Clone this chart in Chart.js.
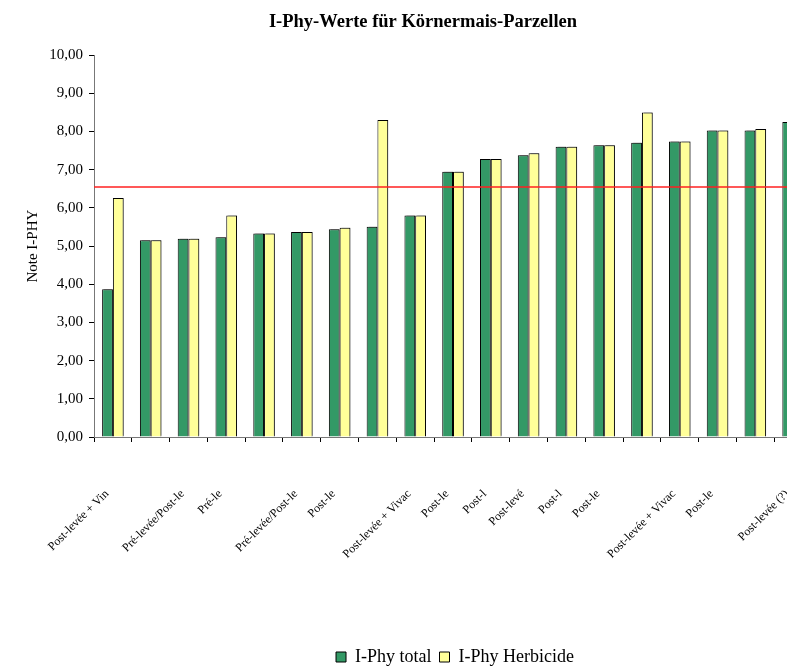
<!DOCTYPE html>
<html>
<head>
<meta charset="utf-8">
<title>I-Phy-Werte für Körnermais-Parzellen</title>
<script src="https://cdn.jsdelivr.net/npm/chart.js@4.4.1/dist/chart.umd.min.js"></script>
<style>
  html, body { margin: 0; padding: 0; background: #fff; overflow: hidden; }
  #wrap { width: 830px; height: 666px; }
</style>
</head>
<body>
<div id="wrap"><canvas id="chart" width="830" height="666"></canvas></div>
<script>
// category labels, as far as they can be read under the axis
var categories = [
    "Post-levée + Vin", "", "Pré-levée/Post-le", "Pré-le", "",
    "Pré-levée/Post-le", "Post-le", "", "Post-levée + Vivac", "Post-le",
    "Post-l", "Post-levé", "Post-l", "Post-le", "",
    "Post-levée + Vivac", "Post-le", "", "Post-levée (?)"
];

var iphyTotal = [3.87, 5.15, 5.19, 5.23, 5.33, 5.37, 5.44, 5.51, 5.80, 6.95,
                 7.28, 7.38, 7.60, 7.64, 7.71, 7.74, 8.03, 8.03, 8.25];
var iphyHerbicide = [6.26, 5.15, 5.19, 5.80, 5.33, 5.37, 5.48, 8.30, 5.80, 6.95,
                     7.28, 7.43, 7.60, 7.64, 8.50, 7.74, 8.03, 8.07, 8.25];

var yTickValues = [0, 1, 2, 3, 4, 5, 6, 7, 8, 9, 10];
var threshold = 6.55;

var FONT = "'Liberation Serif', 'Times New Roman', serif";
Chart.defaults.font.family = FONT;
Chart.defaults.color = "#000";

function centerBox(box, cx) {
    var d = cx - (box.left + box.right) / 2;
    box.left += d;
    box.right += d;
}

// title and legend are not centred on the same axis in the original
var boxPlacement = {
    id: "boxPlacement",
    afterLayout: function (chart) {
        centerBox(chart.titleBlock, 423);
        centerBox(chart.legend, 455);
        var h = chart.legend.height;
        chart.legend.top = 640;
        chart.legend.bottom = 640 + h;
    }
};

var barShadow = {
    id: "barShadow",
    beforeDatasetsDraw: function (chart) {
        var ctx = chart.ctx;
        ctx.save();
        ctx.shadowColor = "rgba(0,0,0,0.3)";
        ctx.shadowOffsetX = 2;
        ctx.shadowOffsetY = -1;
        ctx.shadowBlur = 0;
    },
    afterDatasetsDraw: function (chart) {
        chart.ctx.restore();
    }
};

var thresholdLine = {
    id: "thresholdLine",
    afterDatasetsDraw: function (chart) {
        var ctx = chart.ctx;
        var area = chart.chartArea;
        var y = chart.scales.y.getPixelForValue(threshold);
        ctx.save();
        ctx.strokeStyle = "#ff2020";
        ctx.lineWidth = 1.5;
        ctx.beginPath();
        ctx.moveTo(area.left, y);
        ctx.lineTo(area.right, y);
        ctx.stroke();
        ctx.restore();
    }
};

new Chart(document.getElementById("chart"), {
    type: "bar",
    data: {
        labels: categories,
        datasets: [{
            label: "I-Phy total",
            data: iphyTotal,
            backgroundColor: "#339966",
            borderColor: "#000",
            borderWidth: 1
        }, {
            label: "I-Phy Herbicide",
            data: iphyHerbicide,
            backgroundColor: "#ffff99",
            borderColor: "#000",
            borderWidth: 1
        }]
    },
    options: {
        responsive: false,
        animation: false,
        devicePixelRatio: 1,
        categoryPercentage: 0.57,
        barPercentage: 1,
        layout: { padding: { left: 0, right: 18, top: 0, bottom: 0 } },
        scales: {
            x: {
                ticks: {
                    autoSkip: false,
                    maxRotation: 45,
                    minRotation: 45,
                    font: { size: 12 },
                    padding: 45,
                    labelOffset: -6
                },
                grid: { drawOnChartArea: false, tickLength: 5, color: "#000", offset: true },
                border: { color: "#777" },
                afterFit: function (scale) {
                    scale.height = 229 - scale.chart.legend.height;
                    scale.paddingLeft = 0;
                    scale.paddingRight = 0;
                }
            },
            y: {
                min: 0,
                max: 10,
                afterBuildTicks: function (scale) {
                    scale.ticks = yTickValues.map(function (v) { return { value: v }; });
                },
                ticks: {
                    font: { size: 15 },
                    padding: 6,
                    callback: function (v) { return Number(v).toFixed(2).replace(".", ","); }
                },
                grid: { drawOnChartArea: false, tickLength: 5, color: "#000" },
                border: { color: "#777" },
                title: {
                    display: true,
                    text: "Note I-PHY",
                    font: { size: 15 },
                    padding: { top: 24, bottom: 0 }
                },
                afterFit: function (scale) {
                    scale.width = 94;
                }
            }
        },
        plugins: {
            title: {
                display: true,
                text: "I-Phy-Werte für Körnermais-Parzellen",
                font: { size: 18.5, weight: "bold" },
                color: "#000",
                padding: { top: 11, bottom: 22 }
            },
            legend: {
                position: "bottom",
                labels: {
                    boxWidth: 10,
                    boxHeight: 10,
                    padding: 8,
                    font: { size: 18 },
                    color: "#000"
                }
            },
            tooltip: { enabled: false }
        }
    },
    plugins: [boxPlacement, barShadow, thresholdLine]
});
</script>
</body>
</html>
